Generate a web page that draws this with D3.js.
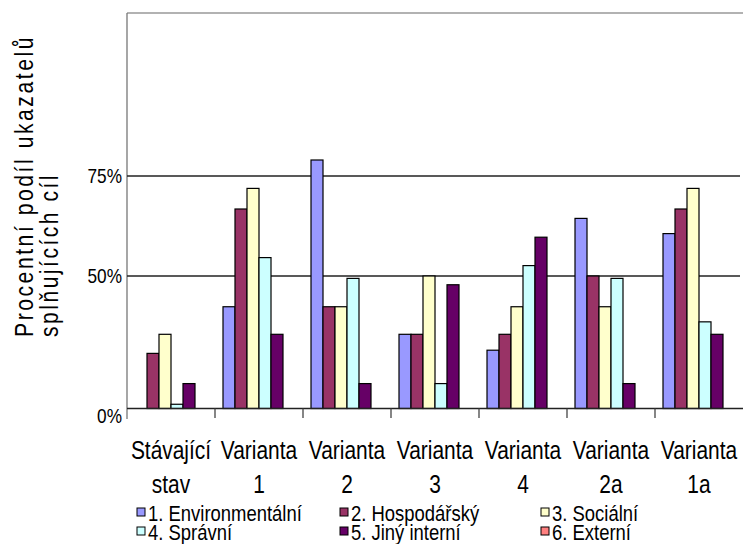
<!DOCTYPE html>
<html>
<head>
<meta charset="utf-8">
<script src="https://cdn.jsdelivr.net/npm/d3@7"></script>
<style>
  body { margin: 0; background: #fff; }
  #container { width: 743px; height: 544px; }
  text { font-family: "Liberation Sans", Arial, sans-serif; fill: #000; }
</style>
</head>
<body>
<div id="container"></div>
<script>
const categories = [["Stávající", "stav"], ["Varianta", "1"], ["Varianta", "2"], ["Varianta", "3"],
  ["Varianta", "4"], ["Varianta", "2a"], ["Varianta", "1a"]];
const seriesNames = ["1. Environmentální", "2. Hospodářský", "3. Sociální", "4. Správní", "5. Jiný interní", "6. Externí"];
const seriesColors = ["#9999ff", "#993366", "#ffffcc", "#ccffff", "#660066", "#ff8080"];

const environmentalni = [0, 38.4, 79, 28, 22, 64.4, 60.6];
const hospodarsky = [20.8, 66.75, 38.4, 28, 28, 50, 66.75];
const socialni = [28, 71.9, 38.4, 50, 38.4, 38.4, 71.9];
const spravni = [1.6, 54.6, 49.1, 9.4, 52.6, 49.1, 32.7];
const jinyInterni = [9.4, 28, 9.4, 46.7, 59.7, 9.4, 28];
const externi = [0, 0, 0, 0, 0, 0, 0];
const allSeries = [environmentalni, hospodarsky, socialni, spravni, jinyInterni, externi];

const yTicks = [0, 50, 75];

const container = d3.select("#container");
let svg = container
  .append("svg")
  .attr("width", 743)
  .attr("height", 544);

let plotLeft = 127, plotRight = 743, plotTop = 13, zeroY = 408.5;

// no narrow font installed -> squeeze the glyphs of a normal one
let narrow = sel => sel.each(function () {
  let w = this.getComputedTextLength();
  d3.select(this).attr("textLength", w * 0.82).attr("lengthAdjust", "spacingAndGlyphs");
});

// the value axis of the original is not linear: 0-50 and 50-75 take different lengths
let y = d3.scaleLinear().domain([0, 50, 75]).range([zeroY, 276, 176]);
let x0 = d3.scaleBand().domain(d3.range(categories.length)).range([plotLeft, plotRight]);
let x1 = d3.scaleBand().domain(d3.range(seriesNames.length)).range([0, x0.bandwidth()]).paddingOuter(0.667);

// frame
svg.append("line")
  .attr("x1", plotLeft).attr("x2", plotRight).attr("y1", plotTop).attr("y2", plotTop)
  .attr("stroke", "#999").attr("stroke-width", 1.5);
svg.append("line")
  .attr("x1", plotLeft).attr("x2", plotLeft).attr("y1", plotTop).attr("y2", 419)
  .attr("stroke", "#777").attr("stroke-width", 1.3);

// gridlines
svg.selectAll(".grid")
  .data(yTicks.filter(d => d > 0))
  .enter()
  .append("line")
  .attr("x1", plotLeft).attr("x2", 740)
  .attr("y1", d => y(d)).attr("y2", d => y(d))
  .attr("stroke", "#222").attr("stroke-width", 1.3);

// bars
let groups = svg.selectAll(".group")
  .data(categories)
  .enter()
  .append("g")
  .attr("transform", (d, i) => `translate(${x0(i)},0)`);

groups.selectAll("rect")
  .data((d, i) => allSeries.map((s, k) => ({ k: k, v: s[i] })).filter(e => e.v > 0))
  .enter()
  .append("rect")
  .attr("x", e => x1(e.k))
  .attr("width", x1.bandwidth())
  .attr("y", e => y(e.v))
  .attr("height", e => zeroY - y(e.v))
  .attr("fill", e => seriesColors[e.k])
  .attr("stroke", "#000")
  .attr("stroke-width", 1.2);

// category axis
svg.append("line")
  .attr("x1", plotLeft).attr("x2", plotRight).attr("y1", zeroY).attr("y2", zeroY)
  .attr("stroke", "#222").attr("stroke-width", 1.3);
svg.selectAll(".xtick")
  .data(d3.range(1, categories.length))
  .enter()
  .append("line")
  .attr("x1", d => x0(d)).attr("x2", d => x0(d))
  .attr("y1", zeroY).attr("y2", 418)
  .attr("stroke", "#444").attr("stroke-width", 1.3);

[459, 493].forEach((ly, line) => {
  svg.selectAll(".cat" + line)
    .data(categories)
    .enter()
    .append("text")
    .attr("x", (d, i) => x0(i) + x0.bandwidth() / 2)
    .attr("y", ly)
    .attr("text-anchor", "middle")
    .attr("font-size", 25.5)
    .text(d => d[line])
    .call(narrow);
});

// value axis labels
svg.selectAll(".ylabel")
  .data(yTicks)
  .enter()
  .append("text")
  .attr("x", 122)
  .attr("y", d => y(d))
  .attr("dy", d => d === 0 ? "0.7em" : "0.35em")
  .attr("text-anchor", "end")
  .attr("font-size", 21)
  .text(d => d + "%")
  .call(narrow);

// axis title, spaced out letters
let title = svg.append("g").attr("transform", "translate(0,337) rotate(-90)");
title.append("text")
  .attr("x", 0).attr("y", 33)
  .attr("font-size", 25)
  .attr("letter-spacing", 3)
  .attr("textLength", 302)
  .attr("lengthAdjust", "spacingAndGlyphs")
  .text("Procentní podíl ukazatelů");
title.append("text")
  .attr("x", 0).attr("y", 58)
  .attr("font-size", 25)
  .attr("letter-spacing", 3)
  .attr("textLength", 164)
  .attr("lengthAdjust", "spacingAndGlyphs")
  .text("splňujících cíl");

// legend
let legendX = [137, 340, 541];
let legendY = [521, 540];
seriesNames.forEach((name, k) => {
  let lx = legendX[k % 3], ly = legendY[Math.floor(k / 3)];
  svg.append("rect")
    .attr("x", lx).attr("y", ly - 13)
    .attr("width", 8).attr("height", 8)
    .attr("fill", seriesColors[k])
    .attr("stroke", "#000").attr("stroke-width", 1);
  svg.append("text")
    .attr("x", lx + 11).attr("y", ly)
    .attr("font-size", 22.5)
    .text(name)
    .call(narrow);
});
</script>
</body>
</html>
